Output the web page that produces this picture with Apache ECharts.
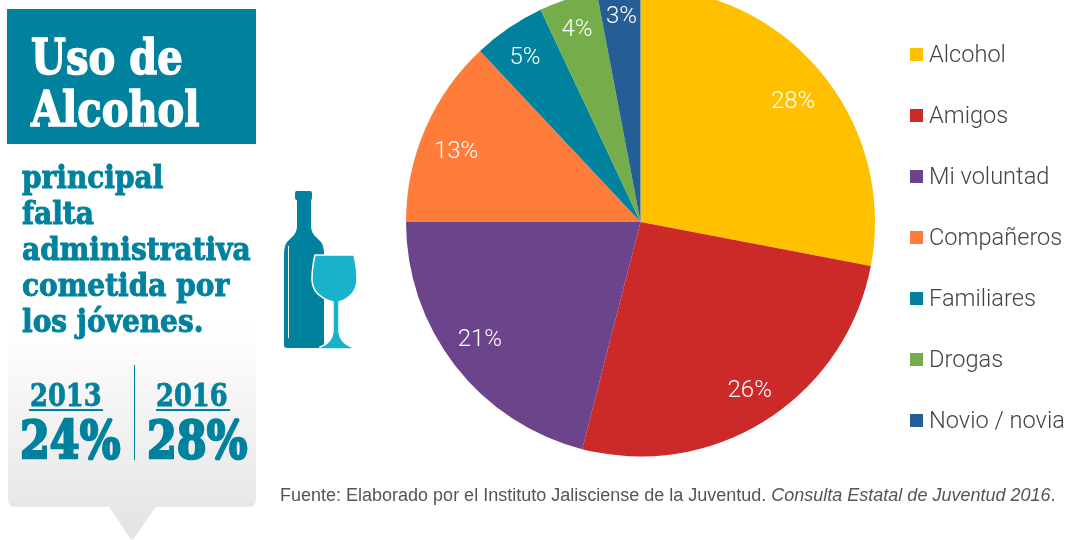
<!DOCTYPE html>
<html>
<head>
<meta charset="utf-8">
<style>
html,body{margin:0;padding:0;background:#fff}
#chart{width:1066px;height:540px}
</style>
<script src="https://cdn.jsdelivr.net/npm/echarts@6/dist/echarts.min.js"></script>
</head>
<body>
<div id="chart"></div>
<script>
// datos
const categorias = ['Alcohol', 'Amigos', 'Mi voluntad', 'Compañeros', 'Familiares', 'Drogas', 'Novio / novia'];
const valores = [28, 26, 21, 13, 5, 4, 3];
const colores = ['#FFC000', '#CC2929', '#6C448C', '#FF7C3A', '#00829E', '#74AD4A', '#255E94'];
const titulo = ['Uso de', 'Alcohol'];
const subtitulo = ['principal', 'falta', 'administrativa', 'cometida por', 'los jóvenes.'];
const anios = ['2013', '2016'];
const porcentajes = ['24%', '28%'];

const teal = '#00829E';
const slab = '"DejaVu Serif", serif';
const total = valores.reduce((a, b) => a + b, 0);

// formas propias, el componente graphic no acepta pathData directo
echarts.graphic.registerShape('caja', echarts.graphic.extendPath('M8 300 H256 V499 Q256 507 248 507 H156 L134 538 Q132 541 130 538 L109 507 H16 Q8 507 8 499 Z'));
echarts.graphic.registerShape('botella', echarts.graphic.extendPath('M295 193 Q295 191 297 191 H310 Q312 191 312 193 V198 Q312 200 311 200 V226 Q311 233 316 237 L321 242 Q324 246 324 254 V345 Q324 348 321 348 H287 Q284 348 284 345 V254 Q284 246 287 242 L292 237 Q297 233 297 226 V200 Q295 200 295 198 Z'));
echarts.graphic.registerShape('copa', echarts.graphic.extendPath('M315 255 H354 Q357 268 357 279 Q357 296 339 302 V330 Q339 342 352 347 V349 H320 V347 Q333 342 333 330 V302 Q312 296 312 279 Q312 268 315 255 Z'));

const chart = echarts.init(document.getElementById('chart'));

// texto con ancho comprimido, el slab condensado original no esta instalado
function txt(str, x, y, size, sx, color, grosor) {
  return {
    type: 'text', x: x, y: y, scaleX: sx, z: 10,
    style: { text: str, fontFamily: slab, fontWeight: 'bold', fontSize: size, fill: color, stroke: color, lineWidth: grosor }
  };
}

const graficos = [
  // caja con degradado y piquito
  {
    type: 'caja', z: 1,
    style: {
      fill: new echarts.graphic.LinearGradient(0, 0, 0, 1, [
        { offset: 0, color: '#ffffff' }, { offset: 0.1, color: '#ffffff' }, { offset: 1, color: '#e3e3e3' }
      ])
    }
  },
  { type: 'rect', z: 2, shape: { x: 7, y: 9, width: 249, height: 135 }, style: { fill: teal } },
  { type: 'rect', z: 3, shape: { x: 29, y: 409, width: 74, height: 2 }, style: { fill: teal } },
  { type: 'rect', z: 3, shape: { x: 156, y: 409, width: 74, height: 2 }, style: { fill: teal } },
  { type: 'rect', z: 3, shape: { x: 134, y: 365, width: 1, height: 95 }, style: { fill: teal } },
  // botella
  { type: 'botella', z: 4, style: { fill: teal } },
  { type: 'rect', z: 5, shape: { x: 288, y: 246, width: 1, height: 92 }, style: { fill: '#ffffff' } },
  // copa
  { type: 'copa', z: 6, style: { fill: '#18B2CB', stroke: '#ffffff', lineWidth: 1.5 } }
];

titulo.forEach((t, i) => graficos.push(txt(t, 31, 37.5 + i * 52.5, 48, 0.835, '#ffffff', 1.5)));
subtitulo.forEach((t, i) => graficos.push(txt(t, 22, 164 + i * 36, 32, 0.875, teal, 1)));
anios.forEach((t, i) => graficos.push(txt(t, 30 + i * 126, 382, 31, 0.83, teal, 0.8)));
porcentajes.forEach((t, i) => graficos.push(txt(t, 20 + i * 127, 417.5, 53, 0.81, teal, 2.5)));

// nota de fuente, el titulo de la consulta va en cursiva
graficos.push({
  type: 'text', x: 280, y: 487, z: 10,
  style: {
    text: '{n|Fuente: Elaborado por el Instituto Jalisciense de la Juventud. }{i|Consulta Estatal de Juventud 2016}{n|.}',
    rich: {
      n: { fontFamily: '"Liberation Sans"', fontSize: 18, fill: '#555555' },
      i: { fontFamily: '"Liberation Sans"', fontSize: 18, fontStyle: 'italic', fill: '#555555' }
    }
  }
});

const radioEtiqueta = 199;
const radioPie = 234.5;
// ajuste fino de cada etiqueta respecto al radio comun
const ajusteX = [-3, 1, -1, 1, -2, -1, 0];
const ajusteY = [9, -2, -6, 10, 3, 0, -4];

chart.setOption({
  animation: false,
  color: colores,
  legend: {
    orient: 'vertical',
    left: 910,
    top: 40.5,
    padding: 0,
    icon: 'rect',
    itemWidth: 13,
    itemHeight: 13,
    itemGap: 33,
    selectedMode: false,
    // rich para poder bajar el texto respecto al cuadrito
    formatter: function (n) { return '{a|' + n + '}'; },
    textStyle: {
      rich: {
        a: { fontFamily: 'Roboto', fontWeight: 300, fontSize: 23.6, lineHeight: 24, color: '#444444', padding: [4, 0, 0, 1] }
      }
    },
    data: categorias
  },
  series: [{
    type: 'pie',
    center: [640.5, 222],
    radius: [0, radioPie],
    startAngle: 90,
    clockwise: true,
    silent: true,
    label: {
      show: true,
      position: 'inside',
      formatter: '{c}%',
      fontFamily: 'Roboto',
      fontWeight: 300,
      fontSize: 24,
      color: '#ffffff'
    },
    // lleva la etiqueta hacia el borde de la rebanada
    labelLayout: function (p) {
      const i = p.dataIndex;
      const antes = valores.slice(0, i).reduce((a, b) => a + b, 0);
      const ang = (antes + valores[i] / 2) / total * 2 * Math.PI;
      const d = radioEtiqueta - radioPie / 2;
      return { dx: d * Math.sin(ang) + ajusteX[i], dy: -d * Math.cos(ang) + ajusteY[i] };
    },
    data: categorias.map((c, i) => ({ name: c, value: valores[i] }))
  }],
  graphic: { elements: graficos }
});
</script>
</body>
</html>
